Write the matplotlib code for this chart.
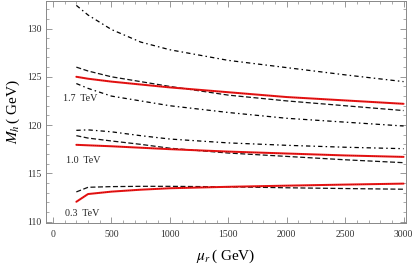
import numpy as np
import matplotlib.pyplot as plt
from matplotlib.ticker import MultipleLocator

plt.rcParams['mathtext.fontset'] = 'stix'
plt.rcParams['font.family'] = ['Liberation Serif', 'DejaVu Serif']

# ── Data ──────────────────────────────────────────────────────────────────────
mu = [200, 300, 500, 750, 1000, 1500, 2000, 2500, 3000]

# 1.7 TeV
m17_up  = [132.4, 131.4, 129.9, 128.6, 127.8, 126.7, 125.95, 125.2, 124.5]
m17_dsh = [126.0, 125.6, 125.0, 124.5, 124.0, 123.1, 122.5, 122.0, 121.5]
m17_red = [125.0, 124.8, 124.5, 124.2, 123.9, 123.4, 122.9, 122.55, 122.2]
m17_low = [124.3, 123.8, 123.0, 122.5, 122.0, 121.3, 120.7, 120.3, 119.9]

# 1.0 TeV
m10_up  = [119.45, 119.5, 119.3, 118.9, 118.55, 118.15, 117.9, 117.7, 117.55]
m10_dsh = [118.9, 118.65, 118.35, 118.0, 117.6, 117.1, 116.75, 116.4, 116.1]
m10_red = [117.95, 117.9, 117.8, 117.65, 117.5, 117.25, 117.05, 116.85, 116.7]

# 0.3 TeV
m03_dsh = [113.07, 113.55, 113.62, 113.65, 113.65, 113.6, 113.5, 113.42, 113.35]
m03_red = [112.05, 112.85, 113.1, 113.3, 113.45, 113.6, 113.72, 113.83, 113.93]

labels = ['1.7  TeV', '1.0  TeV', '0.3  TeV']
label_pos = [(86, 122.76), (111, 116.3), (103, 110.85)]

# ── Plot ──────────────────────────────────────────────────────────────────────
fig = plt.figure(figsize=(4.14, 2.69), dpi=100)
ax = fig.add_axes([0.111, 0.171, 0.870, 0.827])

dashdot = (0, (3.5, 2.5, 1.2, 2.5))
dashed = (0, (4, 2))

for y in [m17_up, m17_low, m10_up]:
    ax.plot(mu, y, color='black', lw=0.9, linestyle=dashdot)
for y in [m17_dsh, m10_dsh, m03_dsh]:
    ax.plot(mu, y, color='#111111', lw=0.9, linestyle=dashed)
for y in [m17_red, m10_red, m03_red]:
    ax.plot(mu, y, color='#ee1515', lw=1.45, solid_capstyle='round')
    ax.plot(mu, y, color='#550000', lw=0.5, linestyle=(0, (1, 2)), alpha=0.6)

for txt, (x, y) in zip(labels, label_pos):
    ax.text(x, y, txt, fontsize=7.2, ha='left', va='center', color='#222222')

ax.set_xlim(-60, 3022)
ax.set_ylim(109.85, 132.9)
ax.xaxis.set_major_locator(MultipleLocator(500))
ax.xaxis.set_minor_locator(MultipleLocator(100))
ax.yaxis.set_major_locator(MultipleLocator(5))
ax.yaxis.set_minor_locator(MultipleLocator(1))
ax.tick_params(which='both', direction='in', top=True, right=True,
               color='#888888', labelsize=7, labelcolor='#333333', pad=3)
ax.tick_params(which='major', length=4, width=0.6)
ax.tick_params(which='minor', length=2, width=0.5)
ax.tick_params(axis='x', pad=5)
ax.tick_params(top=True, labeltop=False, right=True, labelright=False)
for s in ax.spines.values():
    s.set_color('#888888')
    s.set_linewidth(0.7)

ax.set_xlabel(r'$\mu_r\,$( GeV)', fontsize=11, labelpad=6)
ax.set_ylabel(r'$M_h\,$( GeV)', fontsize=11, labelpad=4)

plt.savefig('out.png', dpi=100)
